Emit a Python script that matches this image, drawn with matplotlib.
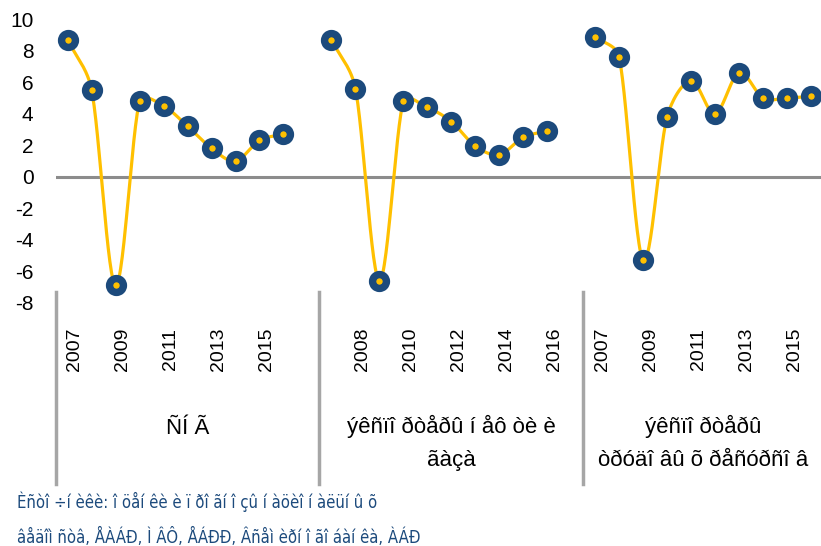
import matplotlib.pyplot as plt
import matplotlib.transforms as mtransforms
from matplotlib import font_manager
import numpy as np

years = list(range(2007, 2017))

group_names = ["ÑÍ Ã", "ýêñïî ðòåðû í åô òè è\nãàçà", "ýêñïî ðòåðû\nòðóäî âû õ ðåñóðñî â"]

cis = [8.7, 5.5, -6.9, 4.8, 4.5, 3.2, 1.8, 1.0, 2.3, 2.7]
oil_gas = [8.7, 5.6, -6.6, 4.8, 4.4, 3.5, 1.95, 1.4, 2.5, 2.9]
labour = [8.9, 7.6, -5.3, 3.8, 6.1, 4.0, 6.6, 5.0, 5.0, 5.1]

source = ["Èñòî ÷í èêè: î öåí êè è ï ðî ãí î çû í àöèî í àëüí û õ",
          "âåäîì ñòâ, ÅÀÁÐ, Ì ÂÔ, ÅÁÐÐ, Âñåì èðí î ãî áàí êà, ÀÁÐ"]

NAVY = "#1C4A7C"
YELLOW = "#FFC000"
W, H = 821, 546
PX_X, PX_Y = 23.98, 15.75   # pixels per category / per unit


def smooth(x, y, n=30, clamp=0.4):
    # bezier through points, tangents like catmull-rom but handles
    # limited by segment length (roughly what excel does)
    P = np.column_stack([np.asarray(x, float) * PX_X, np.asarray(y, float) * PX_Y])
    m = len(P)
    T = np.zeros_like(P)
    for i in range(m):
        a = P[max(i - 1, 0)]
        b = P[min(i + 1, m - 1)]
        T[i] = (b - a) / (2 if 0 < i < m - 1 else 1)
    t = np.linspace(0, 1, n)[:, None]
    out = []
    for i in range(m - 1):
        p0, p3 = P[i], P[i + 1]
        L = np.linalg.norm(p3 - p0)
        h0, h1 = T[i] / 3, T[i + 1] / 3
        for h in (h0, h1):
            ln = np.linalg.norm(h)
            if ln > clamp * L:
                h *= clamp * L / ln
        p1, p2 = p0 + h0, p3 - h1
        out.append((1 - t) ** 3 * p0 + 3 * (1 - t) ** 2 * t * p1
                   + 3 * (1 - t) * t ** 2 * p2 + t ** 3 * p3)
    out = np.vstack(out)
    return out[:, 0] / PX_X, out[:, 1] / PX_Y


plt.rcParams['font.family'] = ['Liberation Sans', 'DejaVu Sans']
plt.rcParams['axes.unicode_minus'] = False

# narrow font for the source note, if there is one
note_font = dict(family=['Liberation Sans', 'DejaVu Sans'], fontsize=11)
for f in font_manager.fontManager.ttflist:
    tag = (f.name + " " + f.fname).lower()
    if ('narrow' in tag or 'condensed' in tag) and 'bold' not in tag \
            and 'oblique' not in tag and 'italic' not in tag and f.weight in (400, 'normal', 'regular'):
        note_font = dict(fontproperties=font_manager.FontProperties(fname=f.fname, size=12))
        break

fig = plt.figure(figsize=(W / 100, H / 100), dpi=100)
ax = fig.add_axes([55.7 / W, 1 - 302.7 / H, 1 - 55.7 / W, (302.7 - 19.2) / H])

offsets = [0, 11, 22]
series = [cis, oil_gas, labour]
for off, vals in zip(offsets, series):
    xs = np.arange(len(vals)) + off
    sx, sy = smooth(xs, vals)
    ax.plot(sx, sy, color=YELLOW, lw=2.3, solid_capstyle='round', zorder=2)
    ax.plot(xs, vals, ls='none', marker='o', ms=10, mew=5.3,
            mfc=YELLOW, mec=NAVY, zorder=3)

ax.axhline(0, color='#8C8C8C', lw=2.2, zorder=1)
ax.set_xlim(-0.5, 31.42)
ax.set_ylim(-8, 10)
ax.set_yticks(range(-8, 11, 2))
ax.set_xticks([])
ax.tick_params(axis='y', length=0, pad=16, labelsize=15)
for s in ax.spines.values():
    s.set_visible(False)

# category labels below the plot
tr = mtransforms.blended_transform_factory(ax.transData, fig.transFigure)
for off in offsets:
    for i, yr in enumerate(years):
        g = off + i
        if g % 2 == 0:
            ax.text(g + 0.3, 1 - 349 / H, str(yr), transform=tr, rotation=90,
                    ha='center', va='center', fontsize=14, clip_on=False)

for xd in [-0.5, 10.5, 21.5]:
    ax.plot([xd, xd], [1 - 292 / H, 1 - 484 / H], transform=tr,
            color='#A6A6A6', lw=2.5, clip_on=False)

centers = [(55.7 + 320) / 2, (320 + 583) / 2, (583 + 823) / 2]
ys = [428, 443, 443]
for cx, cy, name in zip(centers, ys, group_names):
    fig.text(cx / W, 1 - cy / H, name, ha='center', va='center',
             fontsize=16, linespacing=1.75)

fig.text(17 / W, 1 - 508 / H, source[0], ha='left', va='baseline',
         color=NAVY, **note_font)
fig.text(17 / W, 1 - 543 / H, source[1], ha='left', va='baseline',
         color=NAVY, **note_font)

fig.savefig("out.png", dpi=100)
